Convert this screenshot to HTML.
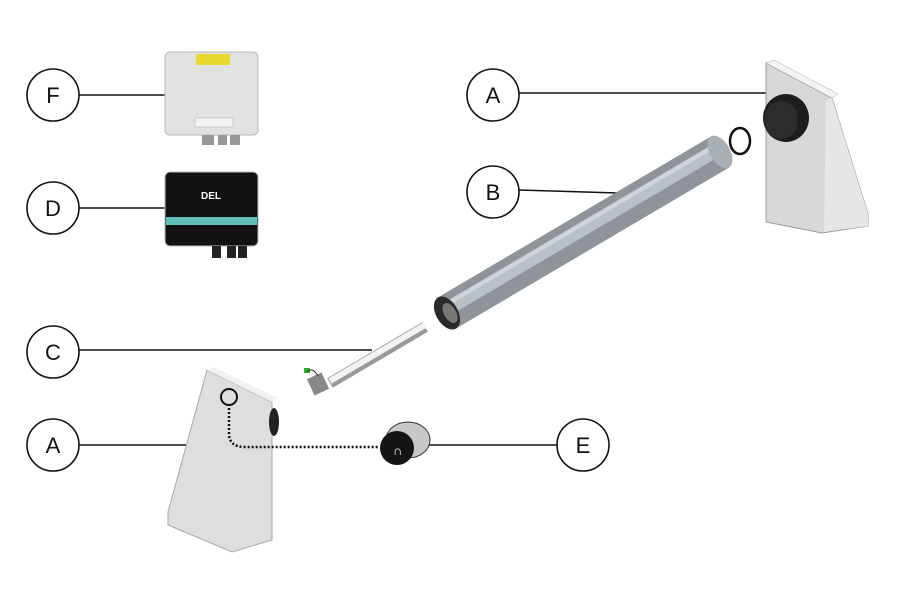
<!DOCTYPE html>
<html><head><style>body{margin:0;background:#fff}svg{display:block}</style></head><body>
<svg width="900" height="600" viewBox="0 0 900 600" xmlns="http://www.w3.org/2000/svg">
<g stroke="#111" stroke-width="1.6" fill="none">
<line x1="79" y1="95" x2="165" y2="95"/>
<line x1="79" y1="208" x2="165" y2="208"/>
<line x1="79" y1="350" x2="372" y2="350"/>
<line x1="79" y1="445" x2="186" y2="445"/>
<line x1="519" y1="93" x2="766" y2="93"/>
<line x1="519" y1="190" x2="618" y2="193"/>
<line x1="428" y1="445" x2="557" y2="445"/>
</g>
<g fill="#fff" stroke="#111" stroke-width="1.6">
<circle cx="53" cy="95" r="26"/><circle cx="53" cy="208" r="26"/><circle cx="53" cy="352" r="26"/><circle cx="53" cy="445" r="26"/>
<circle cx="493" cy="95" r="26"/><circle cx="493" cy="192" r="26"/><circle cx="583" cy="445" r="26"/>
</g>
<g font-family="Liberation Sans, sans-serif" font-size="22" text-anchor="middle" fill="#111">
<text x="53" y="103">F</text><text x="53" y="216">D</text><text x="53" y="360">C</text><text x="53" y="453">A</text>
<text x="493" y="103">A</text><text x="493" y="200">B</text><text x="583" y="453">E</text>
</g>
<!-- F box -->
<rect x="165" y="52" width="93" height="83" rx="5" fill="#e2e2e0" stroke="#bbb"/>
<rect x="196" y="54" width="34" height="11" fill="#e8d830"/>
<rect x="195" y="118" width="38" height="9" fill="#f3f3f3" stroke="#aaa" stroke-width=".5"/>
<rect x="202" y="135" width="12" height="10" fill="#999"/><rect x="218" y="135" width="9" height="10" fill="#999"/><rect x="230" y="135" width="10" height="10" fill="#999"/>
<!-- D box -->
<rect x="165" y="172" width="93" height="74" rx="5" fill="#121212" stroke="#bbb"/>
<rect x="166" y="217" width="91" height="8" fill="#5fbfb4"/>
<text x="211" y="199" font-family="Liberation Sans,sans-serif" font-size="10" fill="#fff" text-anchor="middle" font-weight="bold">DEL</text>
<rect x="212" y="246" width="9" height="12" fill="#222"/><rect x="227" y="246" width="9" height="12" fill="#222"/><rect x="238" y="246" width="9" height="12" fill="#222"/>
<!-- tube B -->
<line x1="447" y1="313" x2="720" y2="152" stroke="#8e9499" stroke-width="36"/>
<line x1="447" y1="309" x2="720" y2="148" stroke="#b9c1c7" stroke-width="14"/>
<line x1="447" y1="304" x2="720" y2="143" stroke="#cfd5da" stroke-width="4"/>
<ellipse cx="720" cy="152" rx="10" ry="18" transform="rotate(-30 720 152)" fill="#a9b0b5"/>
<ellipse cx="447" cy="313" rx="11" ry="18" transform="rotate(-30 447 313)" fill="#2a2a2a"/>
<ellipse cx="450" cy="313" rx="6" ry="11" transform="rotate(-30 450 313)" fill="#777"/>
<!-- right bracket -->
<polygon points="766,63 832,98 868,214 868,226 822,233 766,222" fill="#d8d8d8" stroke="#999" stroke-width="1"/>
<polygon points="826,100 832,98 868,214 868,226 824,232" fill="#e6e6e6"/>
<polygon points="766,63 774,60 838,94 832,98" fill="#f3f3f3" stroke="#aaa" stroke-width=".5"/>
<ellipse cx="786" cy="118" rx="23" ry="24" fill="#1d1d1d"/>
<ellipse cx="781" cy="120" rx="17" ry="19" fill="#2c2c2c"/>
<ellipse cx="740" cy="141" rx="10" ry="13" fill="none" stroke="#111" stroke-width="2.5"/>
<!-- motor C -->
<line x1="330" y1="383" x2="425" y2="327" stroke="#999" stroke-width="11"/>
<line x1="330" y1="381" x2="425" y2="325" stroke="#f2f2f2" stroke-width="6"/>
<rect x="310" y="375" width="16" height="18" fill="#888" transform="rotate(-25 318 384)"/>
<rect x="304" y="368" width="6" height="5" fill="#3a3"/>
<path d="M307 372 Q312 366 318 376" stroke="#333" fill="none"/>
<!-- left bracket -->
<polygon points="207,370 272,402 272,540 232,552 168,525 168,512" fill="#dedede" stroke="#aaa" stroke-width="1"/>
<polygon points="207,370 214,367 278,398 272,402" fill="#f2f2f2"/>
<ellipse cx="274" cy="422" rx="5" ry="14" fill="#222"/>
<circle cx="229" cy="397" r="8" fill="none" stroke="#111" stroke-width="2"/>
<path d="M229 408 L229 435 Q230 447 245 447 L378 447" fill="none" stroke="#111" stroke-width="2.5" stroke-dasharray="2,2"/>
<!-- knob E -->
<ellipse cx="408" cy="440" rx="22" ry="18" fill="#c8c8c8" stroke="#333"/>
<circle cx="397" cy="448" r="17" fill="#151515"/>
<text x="393" y="455" font-family="Liberation Sans,sans-serif" font-size="13" fill="#fff">∩</text>
</svg>
</body></html>
